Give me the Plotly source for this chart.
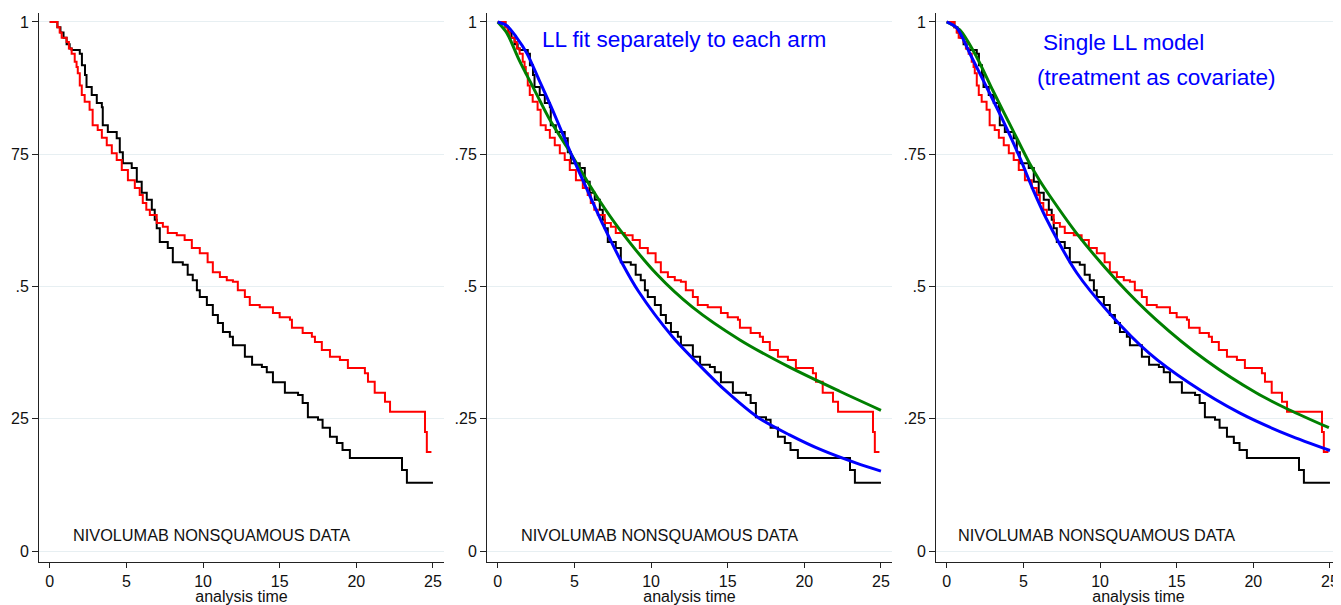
import plotly.graph_objects as go

# ---- Kaplan-Meier steps (time where survival drops, survival after the drop) ----
black_km_t = [0, 0.5, 0.7, 0.9, 1.1, 1.3, 1.43, 1.96, 2.1, 2.3, 2.4, 2.74, 3.07, 3.4, 3.46, 3.79,
              4.37, 4.57, 4.77, 5.35, 5.68, 6.0, 6.33, 6.66, 6.85, 6.98, 7.18, 7.7, 8.03, 8.68,
              9.0, 9.33, 9.6, 9.79, 10.25, 10.64, 10.97, 11.3, 11.75, 11.95, 12.73, 13.2, 13.84,
              14.16, 14.56, 15.34, 16.2, 16.5, 16.84, 17.5, 17.8, 18.28, 18.73, 19.1, 19.58,
              22.98, 23.3, 25.0]
black_km_s = [1.0, 0.99, 0.98, 0.97, 0.958, 0.95, 0.947, 0.94, 0.918, 0.90, 0.877, 0.862, 0.847,
              0.839, 0.805, 0.792, 0.78, 0.754, 0.733, 0.724, 0.698, 0.677, 0.664, 0.645, 0.626,
              0.61, 0.584, 0.573, 0.546, 0.541, 0.522, 0.512, 0.493, 0.48, 0.465, 0.446, 0.431,
              0.414, 0.405, 0.389, 0.367, 0.352, 0.348, 0.338, 0.319, 0.299, 0.295, 0.28, 0.253,
              0.248, 0.233, 0.216, 0.204, 0.191, 0.176, 0.153, 0.129, 0.129]

red_km_t = [0, 0.5, 0.65, 0.78, 1.1, 1.25, 1.43, 1.63, 1.75, 1.83, 1.96, 2.09, 2.28, 2.6, 2.8,
            3.13, 3.4, 3.72, 4.05, 4.37, 4.7, 5.1, 5.55, 5.87, 6.07, 6.3, 6.53, 6.98, 7.38, 7.7,
            8.29, 8.8, 9.27, 9.79, 10.3, 10.64, 11.1, 11.55, 11.95, 12.27, 12.73, 13.05, 13.7,
            14.56, 15.0, 15.67, 15.8, 16.5, 17.1, 17.3, 17.75, 18.28, 18.93, 19.45, 20.56, 20.76,
            21.2, 21.87, 22.2, 24.48, 24.6, 24.9]
red_km_s = [1.0, 0.99, 0.98, 0.97, 0.962, 0.95, 0.94, 0.925, 0.915, 0.903, 0.88, 0.862, 0.849,
            0.834, 0.805, 0.796, 0.781, 0.767, 0.752, 0.739, 0.72, 0.701, 0.686, 0.673, 0.658,
            0.645, 0.635, 0.62, 0.613, 0.601, 0.597, 0.588, 0.573, 0.563, 0.546, 0.527, 0.518,
            0.512, 0.509, 0.493, 0.48, 0.465, 0.461, 0.45, 0.442, 0.437, 0.422, 0.412, 0.405,
            0.395, 0.38, 0.367, 0.361, 0.346, 0.336, 0.32, 0.299, 0.282, 0.263, 0.225, 0.187, 0.187]

# ---- log-logistic fits (separate fits) ----
sep_blue_t = [0, 0.6, 1.2, 1.9, 2.7, 3.6, 4.8, 5.8, 6.9, 8.1, 9.2, 11.4, 13.2, 14.9, 17.0, 19.0,
              21.2, 23.4, 25.0]
sep_blue_s = [1.0, 0.993, 0.972, 0.941, 0.89, 0.832, 0.75, 0.685, 0.615, 0.545, 0.49, 0.405,
              0.35, 0.302, 0.252, 0.22, 0.19, 0.166, 0.151]
sep_green_t = [0, 0.6, 1.4, 2.3, 3.4, 4.5, 5.8, 6.6, 7.9, 10.35, 12.7, 15.8, 19.0, 22.3, 25.0]
sep_green_s = [1.0, 0.979, 0.928, 0.877, 0.815, 0.764, 0.701, 0.664, 0.61, 0.524, 0.461, 0.399,
               0.348, 0.302, 0.266]

# ---- single LL model with treatment as covariate (right panel) ----
single_blue_t = [0, 0.65, 1.5, 2.6, 3.65, 4.75, 5.6, 6.5, 8.5, 10.6, 13.2, 15.8, 19.1, 22.3, 25.0]
single_blue_s = [1.0, 0.989, 0.941, 0.877, 0.815, 0.745, 0.685, 0.628, 0.525, 0.45, 0.374, 0.318,
                 0.261, 0.219, 0.19]
single_green_t = [0, 0.85, 1.95, 3.0, 4.3, 5.4, 6.05, 6.9, 8.46, 11.07, 13.67, 16.93, 20.18,
                  22.33, 24.93]
single_green_s = [1.0, 0.985, 0.934, 0.871, 0.796, 0.733, 0.701, 0.664, 0.601, 0.512, 0.437,
                  0.36, 0.299, 0.267, 0.233]

x_ticks = [0, 5, 10, 15, 20, 25]
y_ticks = [0, 0.25, 0.5, 0.75, 1]
y_text_first = ["0", "25", ".5", "75", "1"]
y_text = ["0", ".25", ".5", ".75", "1"]
data_label = "NIVOLUMAB NONSQUAMOUS DATA"

FONT = "Liberation Sans, Arial, sans-serif"
# the page body adds an 8px margin, so the figure is drawn 8px smaller and offsets are shifted
OFF = 8
W, H = 1341 - OFF, 605 - OFF
panels_px = [(39, 444), (487, 892), (936, 1341)]
y_dom = [(H - (562 - OFF)) / H, (H - (13 - OFF)) / H]

fig = go.Figure()


def km(t, s, color, n):
    return go.Scatter(x=t, y=s, mode="lines", line=dict(color=color, width=2, shape="hv"),
                      xaxis="x" + n, yaxis="y" + n, hoverinfo="skip")


def fit(t, s, color, n):
    return go.Scatter(x=t, y=s, mode="lines",
                      line=dict(color=color, width=3, shape="spline", smoothing=0.8),
                      xaxis="x" + n, yaxis="y" + n, hoverinfo="skip")


for n in ["", "2", "3"]:
    fig.add_trace(km(black_km_t, black_km_s, "black", n))
    fig.add_trace(km(red_km_t, red_km_s, "#ff0000", n))

fig.add_trace(fit(sep_green_t, sep_green_s, "#008000", "2"))
fig.add_trace(fit(sep_blue_t, sep_blue_s, "#0000ff", "2"))
fig.add_trace(fit(single_green_t, single_green_s, "#008000", "3"))
fig.add_trace(fit(single_blue_t, single_blue_s, "#0000ff", "3"))

layout = dict(width=W, height=H, margin=dict(l=0, r=0, t=0, b=0), autosize=False,
              showlegend=False, plot_bgcolor="white", paper_bgcolor="white",
              font=dict(family=FONT, size=16, color="#111"))

for i, (a, b) in enumerate(panels_px):
    k = "" if i == 0 else str(i + 1)
    layout["xaxis" + k] = dict(domain=[(a - OFF) / W, min(1.0, (b - OFF) / W)],
                               range=[-0.7, 25.72], anchor="y" + k,
                               tickvals=x_ticks, ticks="outside", ticklen=5, tickcolor="#222",
                               showline=True, linecolor="#222", linewidth=1, showgrid=False,
                               zeroline=False, tickfont=dict(size=16),
                               title=dict(text="analysis time", font=dict(size=16), standoff=0))
    layout["yaxis" + k] = dict(domain=y_dom, range=[-0.0208, 1.017], anchor="x" + k,
                               tickvals=y_ticks, ticktext=y_text_first if i == 0 else y_text,
                               ticks="outside", ticklen=6, tickcolor="#222", showline=True,
                               linecolor="#222", linewidth=1, showgrid=True,
                               gridcolor="#e7eff2", gridwidth=1, zeroline=False,
                               tickfont=dict(size=16))
fig.update_layout(**layout)

# panel captions
for n, x0 in [("", 1.37), ("2", 1.37), ("3", 0.6)]:
    fig.add_annotation(x=x0, y=0.03, xref="x" + n, yref="y" + n, text=data_label,
                       showarrow=False, xanchor="left", yanchor="middle",
                       font=dict(size=16.3, color="#111"))

fig.add_annotation(x=2.73, y=0.966, xref="x2", yref="y2", text="LL fit separately to each arm",
                   showarrow=False, xanchor="left", yanchor="middle",
                   font=dict(size=22.6, color="#0000ff"))
fig.add_annotation(x=6.12, y=0.962, xref="x3", yref="y3", text="Single LL model",
                   showarrow=False, xanchor="left", yanchor="middle",
                   font=dict(size=22.6, color="#0000ff"))
fig.add_annotation(x=5.73, y=0.896, xref="x3", yref="y3", text="(treatment as covariate)",
                   showarrow=False, xanchor="left", yanchor="middle",
                   font=dict(size=22.6, color="#0000ff"))

fig.write_html("out.html")
